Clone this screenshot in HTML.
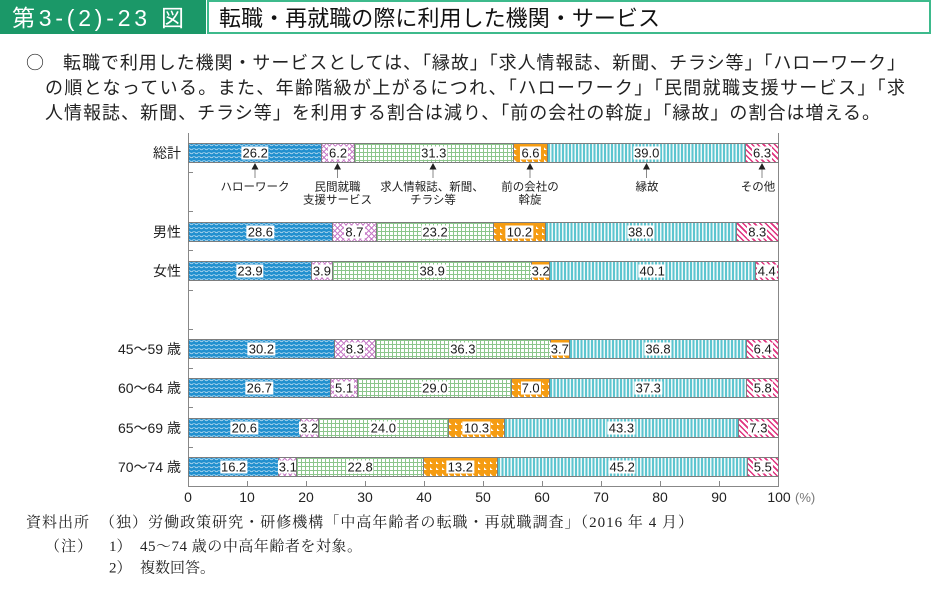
<!DOCTYPE html>
<html lang="ja">
<head>
<meta charset="utf-8">
<style>
  html,body{margin:0;padding:0;background:#fff;}
  body{width:932px;height:593px;position:relative;overflow:hidden;}
  svg.layer{position:absolute;left:0;top:0;}
  .bar{position:absolute;left:188px;width:591px;height:20px;display:flex;box-sizing:border-box;border:1px solid #7d7d7d;}
  .bar>div{position:relative;min-width:0;flex-basis:0;}
  .bar>div+div{border-left:1px solid #7d7d7d;}
  .bar span{position:absolute;left:50%;top:50%;transform:translate(-50%,-50%);background:#fff;font:13px/13px "Liberation Sans","Noto Sans CJK JP",sans-serif;padding:0 1px;color:#1a1a1a;white-space:nowrap;}
  .a{background-color:#2190cf;background-image:radial-gradient(circle at 50% 0,rgba(255,255,255,0) 1.1px,rgba(255,255,255,.85) 1.7px,rgba(255,255,255,0) 2.4px);background-size:5px 4px;}
  .b{background-color:#fff;background-image:repeating-linear-gradient(45deg,#c77cc7 0 1px,transparent 1px 4px),repeating-linear-gradient(-45deg,#c77cc7 0 1px,transparent 1px 4px);}
  .c{background-color:#fff;background-image:linear-gradient(90deg,#8cc68c 1px,transparent 1px),linear-gradient(#8cc68c 1px,transparent 1px);background-size:4px 4px,4px 4px;}
  .d{background-color:#f59c12;background-image:linear-gradient(45deg,#fff 0 24%,transparent 24%);background-size:6px 6px;}
  .e{background:repeating-linear-gradient(90deg,#5cc5cf 0 2px,#eef8f9 2px 3.5px);}
  .f{background-color:#fff;background-image:repeating-linear-gradient(45deg,#e0327e 0 1.5px,transparent 1.5px 4px);}
</style>
</head>
<body>
<svg class="layer" width="932" height="593" viewBox="0 0 932 593" xmlns="http://www.w3.org/2000/svg">
  <!-- header -->
  <rect x="0" y="0" width="206" height="34" fill="#1b9868"/>
  <rect x="208" y="1" width="722" height="32" fill="#fff" stroke="#3dba8c" stroke-width="2"/>
  <text x="12" y="26" font-size="23" fill="#fff" textLength="172" font-family="'Liberation Sans','Noto Sans CJK JP',sans-serif">第3-(2)-23 図</text>
  <text x="219" y="26" font-size="22" fill="#111" textLength="441" font-family="'Liberation Sans','Noto Sans CJK JP',sans-serif">転職・再就職の際に利用した機関・サービス</text>

  <!-- paragraph -->
  <g font-family="'Liberation Sans','Noto Sans CJK JP',sans-serif" font-size="18" fill="#222">
    <text x="26" y="69" font-family="'Noto Sans CJK JP',sans-serif" font-size="18">○</text>
    <text x="63" y="69" textLength="842">転職で利用した機関・サービスとしては、「縁故」「求人情報誌、新聞、チラシ等」「ハローワーク」</text>
    <text x="45" y="94" textLength="860">の順となっている。また、年齢階級が上がるにつれ、「ハローワーク」「民間就職支援サービス」「求</text>
    <text x="45" y="119" textLength="835">人情報誌、新聞、チラシ等」を利用する割合は減り、「前の会社の斡旋」「縁故」の割合は増える。</text>
  </g>

  <!-- frame -->
  <g stroke="#888" stroke-width="1" fill="none">
    <line x1="188.5" y1="133" x2="188.5" y2="486.5"/>
    <line x1="778.5" y1="133" x2="778.5" y2="486.5"/>
    <line x1="188" y1="486.5" x2="779" y2="486.5"/>
    <line x1="188" y1="172.5" x2="193" y2="172.5"/>
    <line x1="188" y1="211.5" x2="193" y2="211.5"/>
    <line x1="188" y1="250.5" x2="193" y2="250.5"/>
    <line x1="188" y1="290.5" x2="193" y2="290.5"/>
    <line x1="188" y1="329.5" x2="193" y2="329.5"/>
    <line x1="188" y1="368.5" x2="193" y2="368.5"/>
    <line x1="188" y1="407.5" x2="193" y2="407.5"/>
    <line x1="188" y1="447.5" x2="193" y2="447.5"/>
    <line x1="247.5" y1="481" x2="247.5" y2="486"/>
    <line x1="306.5" y1="481" x2="306.5" y2="486"/>
    <line x1="365.5" y1="481" x2="365.5" y2="486"/>
    <line x1="424.5" y1="481" x2="424.5" y2="486"/>
    <line x1="483.5" y1="481" x2="483.5" y2="486"/>
    <line x1="542.5" y1="481" x2="542.5" y2="486"/>
    <line x1="601.5" y1="481" x2="601.5" y2="486"/>
    <line x1="660.5" y1="481" x2="660.5" y2="486"/>
    <line x1="719.5" y1="481" x2="719.5" y2="486"/>
  </g>

  <!-- axis labels -->
  <g font-family="'Liberation Sans','Noto Sans CJK JP',sans-serif" font-size="14" fill="#222" text-anchor="middle">
    <text x="188" y="502">0</text>
    <text x="247" y="502">10</text>
    <text x="306" y="502">20</text>
    <text x="365" y="502">30</text>
    <text x="424" y="502">40</text>
    <text x="483" y="502">50</text>
    <text x="542" y="502">60</text>
    <text x="601" y="502">70</text>
    <text x="660" y="502">80</text>
    <text x="719" y="502">90</text>
    <text x="779" y="502">100</text>
  </g>
  <text x="795" y="502" font-family="'Liberation Sans','Noto Sans CJK JP',sans-serif" font-size="13" fill="#777">(%)</text>

  <!-- category labels -->
  <g font-family="'Liberation Sans','Noto Sans CJK JP',sans-serif" font-size="14" fill="#222" text-anchor="end">
    <text x="181" y="158">総計</text>
    <text x="181" y="237">男性</text>
    <text x="181" y="276">女性</text>
    <text x="181" y="354">45～59 歳</text>
    <text x="181" y="393">60～64 歳</text>
    <text x="181" y="433">65～69 歳</text>
    <text x="181" y="472">70～74 歳</text>
  </g>

  <!-- annotation arrows -->
  <g fill="#222">
    <polygon points="255,163 251.5,169.5 258.5,169.5"/>
    <polygon points="337.5,163 334,169.5 341,169.5"/>
    <polygon points="433,163 429.5,169.5 436.5,169.5"/>
    <polygon points="530,163 526.5,169.5 533.5,169.5"/>
    <polygon points="646.5,163 643,169.5 650,169.5"/>
    <polygon points="762,163 758.5,169.5 765.5,169.5"/>
  </g>
  <g stroke="#888" stroke-width="1">
    <line x1="255" y1="169.5" x2="255" y2="178"/>
    <line x1="337.5" y1="169.5" x2="337.5" y2="178"/>
    <line x1="433" y1="169.5" x2="433" y2="178"/>
    <line x1="530" y1="169.5" x2="530" y2="178"/>
    <line x1="646.5" y1="169.5" x2="646.5" y2="178"/>
    <line x1="762" y1="169.5" x2="762" y2="178"/>
  </g>
  <g font-family="'Liberation Sans','Noto Sans CJK JP',sans-serif" font-size="11.5" fill="#222" text-anchor="middle">
    <text x="255" y="190.5">ハローワーク</text>
    <text x="337.5" y="190.5">民間就職</text>
    <text x="337.5" y="203.5">支援サービス</text>
    <text x="432" y="190.5">求人情報誌、新聞、</text>
    <text x="433" y="203.5">チラシ等</text>
    <text x="530" y="190.5">前の会社の</text>
    <text x="530" y="203.5">斡旋</text>
    <text x="647" y="190.5">縁故</text>
    <text x="758" y="190.5">その他</text>
  </g>

  <!-- footnotes -->
  <g font-family="'Liberation Serif','Noto Serif CJK SC',serif" font-size="15" fill="#222">
    <text x="26" y="527" textLength="63">資料出所</text>
    <text x="100" y="527" textLength="593">（独）労働政策研究・研修機構「中高年齢者の転職・再就職調査」（2016 年 4 月）</text>
    <text x="45" y="551" textLength="47">（注）</text>
    <text x="109" y="551">1）</text>
    <text x="140" y="551" textLength="222">45～74 歳の中高年齢者を対象。</text>
    <text x="109" y="572.5">2）</text>
    <text x="140" y="572.5">複数回答。</text>
  </g>
</svg>

<!-- bars -->
<div class="bar" style="top:143px">
  <div class="a" style="flex:26.2"><span>26.2</span></div>
  <div class="b" style="flex:6.2"><span>6.2</span></div>
  <div class="c" style="flex:31.3"><span>31.3</span></div>
  <div class="d" style="flex:6.6"><span>6.6</span></div>
  <div class="e" style="flex:39.0"><span>39.0</span></div>
  <div class="f" style="flex:6.3"><span>6.3</span></div>
</div>
<div class="bar" style="top:222px">
  <div class="a" style="flex:28.6"><span>28.6</span></div>
  <div class="b" style="flex:8.7"><span>8.7</span></div>
  <div class="c" style="flex:23.2"><span>23.2</span></div>
  <div class="d" style="flex:10.2"><span>10.2</span></div>
  <div class="e" style="flex:38.0"><span>38.0</span></div>
  <div class="f" style="flex:8.3"><span>8.3</span></div>
</div>
<div class="bar" style="top:261px">
  <div class="a" style="flex:23.9"><span>23.9</span></div>
  <div class="b" style="flex:3.9"><span>3.9</span></div>
  <div class="c" style="flex:38.9"><span>38.9</span></div>
  <div class="d" style="flex:3.2"><span>3.2</span></div>
  <div class="e" style="flex:40.1"><span>40.1</span></div>
  <div class="f" style="flex:4.4"><span>4.4</span></div>
</div>
<div class="bar" style="top:339px">
  <div class="a" style="flex:30.2"><span>30.2</span></div>
  <div class="b" style="flex:8.3"><span>8.3</span></div>
  <div class="c" style="flex:36.3"><span>36.3</span></div>
  <div class="d" style="flex:3.7"><span>3.7</span></div>
  <div class="e" style="flex:36.8"><span>36.8</span></div>
  <div class="f" style="flex:6.4"><span>6.4</span></div>
</div>
<div class="bar" style="top:378px">
  <div class="a" style="flex:26.7"><span>26.7</span></div>
  <div class="b" style="flex:5.1"><span>5.1</span></div>
  <div class="c" style="flex:29.0"><span>29.0</span></div>
  <div class="d" style="flex:7.0"><span>7.0</span></div>
  <div class="e" style="flex:37.3"><span>37.3</span></div>
  <div class="f" style="flex:5.8"><span>5.8</span></div>
</div>
<div class="bar" style="top:418px">
  <div class="a" style="flex:20.6"><span>20.6</span></div>
  <div class="b" style="flex:3.2"><span>3.2</span></div>
  <div class="c" style="flex:24.0"><span>24.0</span></div>
  <div class="d" style="flex:10.3"><span>10.3</span></div>
  <div class="e" style="flex:43.3"><span>43.3</span></div>
  <div class="f" style="flex:7.3"><span>7.3</span></div>
</div>
<div class="bar" style="top:457px">
  <div class="a" style="flex:16.2"><span>16.2</span></div>
  <div class="b" style="flex:3.1"><span>3.1</span></div>
  <div class="c" style="flex:22.8"><span>22.8</span></div>
  <div class="d" style="flex:13.2"><span>13.2</span></div>
  <div class="e" style="flex:45.2"><span>45.2</span></div>
  <div class="f" style="flex:5.5"><span>5.5</span></div>
</div>
</body>
</html>
